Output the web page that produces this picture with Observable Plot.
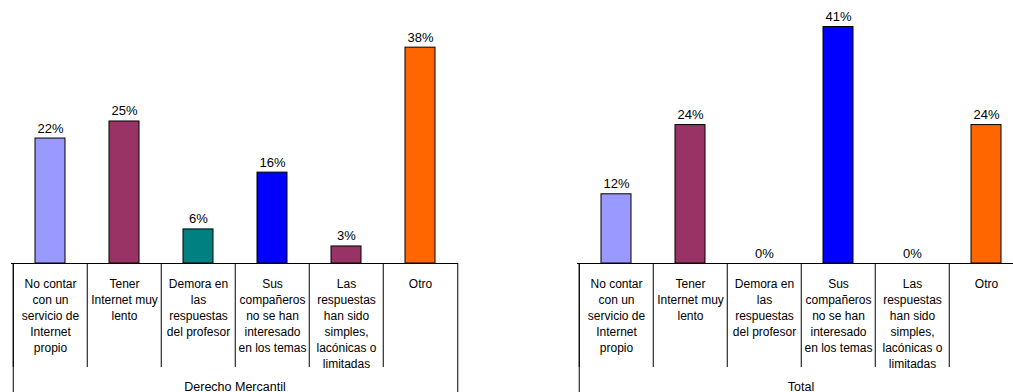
<!DOCTYPE html>
<html>
<head>
<meta charset="utf-8">
<script src="https://cdn.jsdelivr.net/npm/d3@7"></script>
<script src="https://cdn.jsdelivr.net/npm/@observablehq/plot@0.6"></script>
<style>
  html, body { margin: 0; padding: 0; background: #fff; }
  body { width: 1013px; height: 392px; overflow: hidden; position: relative; font-family: "Liberation Sans", Arial, sans-serif; }
  .panel { position: absolute; top: 0; width: 460px; height: 392px; }
  .panel svg { max-width: none !important; }
</style>
</head>
<body>
<div id="p0" class="panel" style="left:0px"></div>
<div id="p1" class="panel" style="left:566px"></div>
<script>
// ---- data ----
const categories = [
  "No contar\ncon un\nservicio de\nInternet\npropio",
  "Tener\nInternet muy\nlento",
  "Demora en\nlas\nrespuestas\ndel profesor",
  "Sus\ncompañeros\nno se han\ninteresado\nen los temas",
  "Las\nrespuestas\nhan sido\nsimples,\nlacónicas o\nlimitadas",
  "Otro"
];
const panelNames = ["Derecho Mercantil", "Total"];
const mercantilValues = [22, 25, 6, 16, 3, 38];
const totalValues = [12, 24, 0, 41, 0, 24];
const barColors = ["#9999FF", "#993366", "#008080", "#0000FF", "#993366", "#FF6600"];
const yMax = [46.3, 45.6];

function drawPanel(name, values, top, target) {
  const rows = categories.map((c, i) => ({cat: c, value: values[i], color: barColors[i]}));
  const W = 460, mL = 11, mR = 2;
  const bw = (W - mL - mR) / categories.length;
  const half = bw / 2;
  const chart = Plot.plot({
    width: W,
    height: 392,
    marginLeft: mL,
    marginRight: mR,
    marginTop: 0,
    marginBottom: 129,
    style: {fontFamily: "'Liberation Sans', Arial, sans-serif", background: "transparent", overflow: "visible", color: "#000", maxWidth: "none"},
    x: {domain: categories, padding: 0, axis: null},
    y: {domain: [0, top], axis: null},
    color: {type: "identity"},
    marks: [
      Plot.barY(rows, {x: "cat", y: "value", fill: "color", stroke: "#000", strokeWidth: 1, insetLeft: 22, insetRight: 22}),
      Plot.text(rows, {x: "cat", y: "value", text: d => d.value + "%", dy: -6, lineAnchor: "bottom", fontSize: 13, fill: "#000"}),
      Plot.ruleY([0], {stroke: "#000", strokeWidth: 1}),
      // inner dividers (left edge of each category)
      Plot.ruleX(rows, {x: "cat", y1: () => 0, y2: () => 0, dx: -half, insetBottom: -104, stroke: "#000", strokeWidth: 1}),
      // outer edges down to the group label
      Plot.ruleX([rows[0]], {x: "cat", y1: () => 0, y2: () => 0, dx: -half, insetBottom: -129, stroke: "#000", strokeWidth: 1}),
      Plot.ruleX([rows[rows.length - 1]], {x: "cat", y1: () => 0, y2: () => 0, dx: half, insetBottom: -129, stroke: "#000", strokeWidth: 1}),
      Plot.text(rows, {x: "cat", y: () => 0, text: "cat", dy: 13, lineAnchor: "top", lineHeight: 1.333, fontSize: 12, fill: "#000"}),
      Plot.text([name], {frameAnchor: "bottom", text: d => d, dy: 123, lineAnchor: "middle", fontSize: 12.5, fill: "#000"})
    ]
  });
  document.getElementById(target).appendChild(chart);
}

drawPanel(panelNames[0], mercantilValues, yMax[0], "p0");
drawPanel(panelNames[1], totalValues, yMax[1], "p1");
</script>
</body>
</html>
